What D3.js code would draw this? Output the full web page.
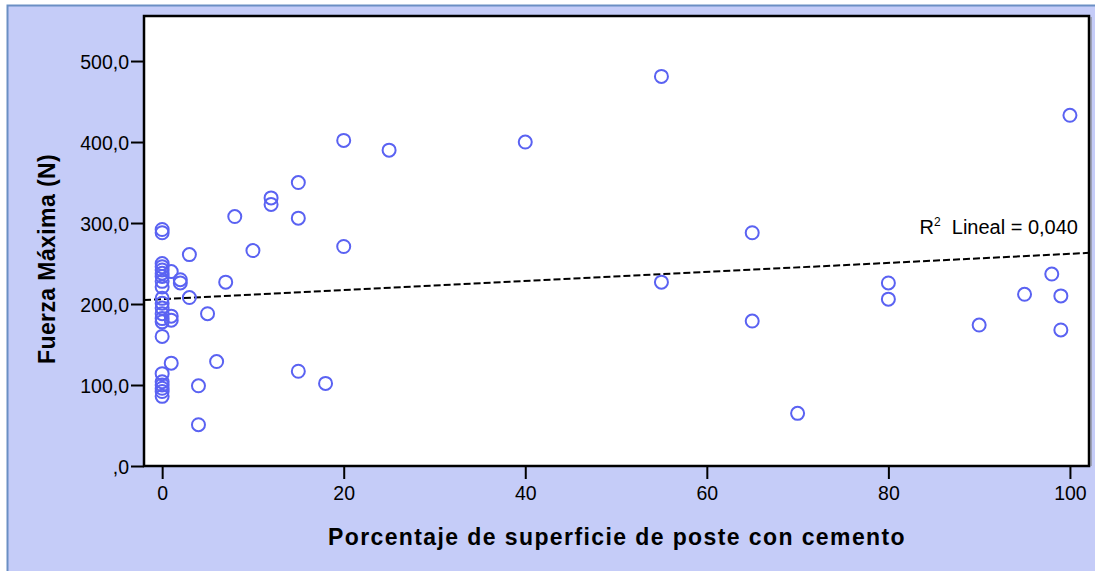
<!DOCTYPE html>
<html><head><meta charset="utf-8">
<script src="https://cdn.jsdelivr.net/npm/d3@7"></script>
<style>body{margin:0;background:#fff;}svg{display:block;font-family:"Liberation Sans",Arial,sans-serif;}</style>
</head><body>
<script>
// Data: x = Porcentaje de superficie con cemento, y = Fuerza Máxima (N)
const pctValues = [55,100,20,25,40,15,12,12,8,15,0,0,65,20,10,3,
  0,0,0,0,0,0,0,1,2,2,7,55,80,98,95,99,80,3,5,
  0,0,0,0,0,0,1,1,0,65,90,99,1,6,0,0,0,0,0,0,15,18,4,70,4];
const forceValues = [481,433,402,390,400,350,331,323,308,306,292,288,288,271,266,261,
  250,246,242,238,234,228,221,240,230,226,227,227,226,237,212,210,206,208,188,
  207,201,195,188,182,178,185,180,160,179,174,168,127,129,114,104,100,96,92,86,117,102,99,65,51];
const xTicks = [0,20,40,60,80,100];
const yTicks = [0,100,200,300,400,500];
const fitLine = {intercept: 206, slope: 0.56};
const r2Label = "0,040";

const W = 1095, H = 571;
const svg = d3.select("body").append("svg").attr("width", W).attr("height", H);
svg.append("rect").attr("x",7.5).attr("y",5.5).attr("width",W).attr("height",H)
  .attr("fill","#c5ccf8").attr("stroke","#6b8fc4").attr("stroke-width",2);

const L = 144, R = 1089, T = 16, B = 466;
const x = d3.scaleLinear().domain([-2, 102.1]).range([L, R]);
const y = d3.scaleLinear().domain([0, 555.6]).range([B, T]);

svg.append("rect").attr("x",L).attr("y",T).attr("width",R-L).attr("height",B-T)
  .attr("fill","#fff");

const fmtY = d => d === 0 ? ",0" : d3.format(".1f")(d).replace(".", ",");
const yAxis = svg.append("g").attr("transform",`translate(${L},0)`)
  .call(d3.axisLeft(y).tickValues(yTicks).tickSize(13).tickPadding(2).tickFormat(fmtY));
const xAxis = svg.append("g").attr("transform",`translate(0,${B})`)
  .call(d3.axisBottom(x).tickValues(xTicks).tickSize(13).tickPadding(4).tickFormat(d3.format("d")));
[yAxis, xAxis].forEach(g => {
  g.select(".domain").remove();
  g.selectAll(".tick line").attr("stroke","#000").attr("stroke-width",2);
  g.selectAll(".tick text").attr("fill","#000").style("font-size","19.5px")
    .style("font-family","'Liberation Sans',Arial,sans-serif");
});
yAxis.selectAll(".tick text").attr("dy","0.36em");
xAxis.selectAll(".tick text").attr("dy","0.85em");

// regression line
const x0 = x.domain()[0], x1 = x.domain()[1];
svg.append("line")
  .attr("x1", x(x0)).attr("y1", y(fitLine.intercept + fitLine.slope*x0))
  .attr("x2", x(x1)).attr("y2", y(fitLine.intercept + fitLine.slope*x1))
  .attr("stroke","#000").attr("stroke-width",2).attr("stroke-dasharray","7,3");

// points
const pts = pctValues.map((p,i) => ({p, f: forceValues[i]}));
svg.append("g").selectAll("circle").data(pts).join("circle")
  .attr("cx", d => x(d.p)).attr("cy", d => y(d.f)).attr("r", 6.5)
  .attr("fill","none").attr("stroke","#5a62f2").attr("stroke-width",2);

// frame
svg.append("rect").attr("x",L).attr("y",T).attr("width",R-L).attr("height",B-T)
  .attr("fill","none").attr("stroke","#000").attr("stroke-width",2.5);
svg.append("line").attr("x1",R+2).attr("x2",R+2).attr("y1",T+1).attr("y2",B)
  .attr("stroke","#777").attr("stroke-width",1);

// R2 label
const r2 = svg.append("text").attr("x",1078).attr("y",234).attr("text-anchor","end")
  .style("font-size","20px").attr("fill","#000");
r2.append("tspan").text("R");
r2.append("tspan").attr("dy",-8).style("font-size","12px").text("2");
r2.append("tspan").attr("dy",8).text("  Lineal = " + r2Label).attr("xml:space","preserve");

// axis titles
svg.append("text").attr("x", 617).attr("y", 545).attr("text-anchor","middle")
  .style("font-size","23px").style("font-weight","bold").style("letter-spacing","1.4px").attr("fill","#000")
  .text("Porcentaje de superficie de poste con cemento");
svg.append("text").attr("transform","translate(55,259) rotate(-90)").attr("text-anchor","middle")
  .style("font-size","23px").style("font-weight","bold").style("letter-spacing","0.4px").attr("fill","#000")
  .text("Fuerza Máxima (N)");
</script>
</body></html>
